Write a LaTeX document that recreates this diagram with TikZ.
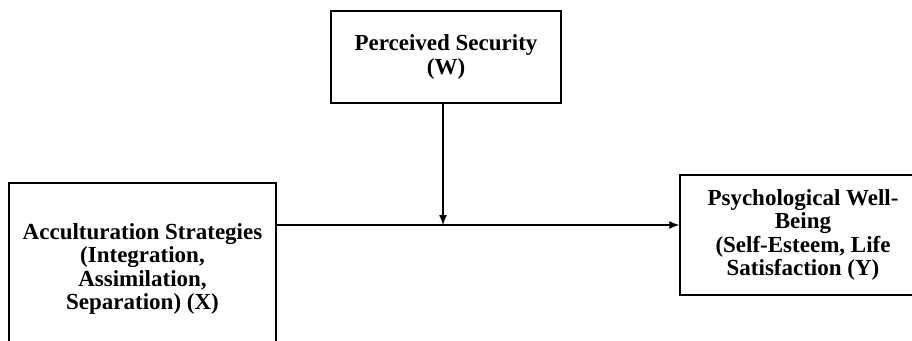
\documentclass[tikz,border=0pt]{standalone}
\usepackage{fontspec}
\setmainfont{Liberation Serif}
\usetikzlibrary{arrows.meta}
\begin{document}
\begin{tikzpicture}[x=1pt,y=-1pt,
  box/.style={draw=black,line width=1.4pt,rectangle,align=center,inner sep=0pt,
    font=\bfseries\fontsize{23}{23.5}\selectfont},
  conn/.style={line width=1.3pt,-{Latex[length=10pt,width=8pt]}}]
\useasboundingbox (0,0) rectangle (912,340);
\clip (0,0) rectangle (912,340);
\node[box,minimum width=267pt,minimum height=172pt] (x) at (142.5,269) {Acculturation Strategies\\(Integration,\\Assimilation,\\Separation) (X)};
\node[box,minimum width=230pt,minimum height=92pt] (w) at (446,57) {Perceived Security\\(W)};
\node[box,minimum width=246pt,minimum height=120pt] (y) at (803,235) {Psychological Well-\\Being\\(Self-Esteem, Life\\Satisfaction (Y)};
\coordinate (m) at (443,225);
\draw[conn] (x.east |- m) -- (y.west |- m);
\draw[conn] (w.south -| m) -- (m);
\end{tikzpicture}
\end{document}
